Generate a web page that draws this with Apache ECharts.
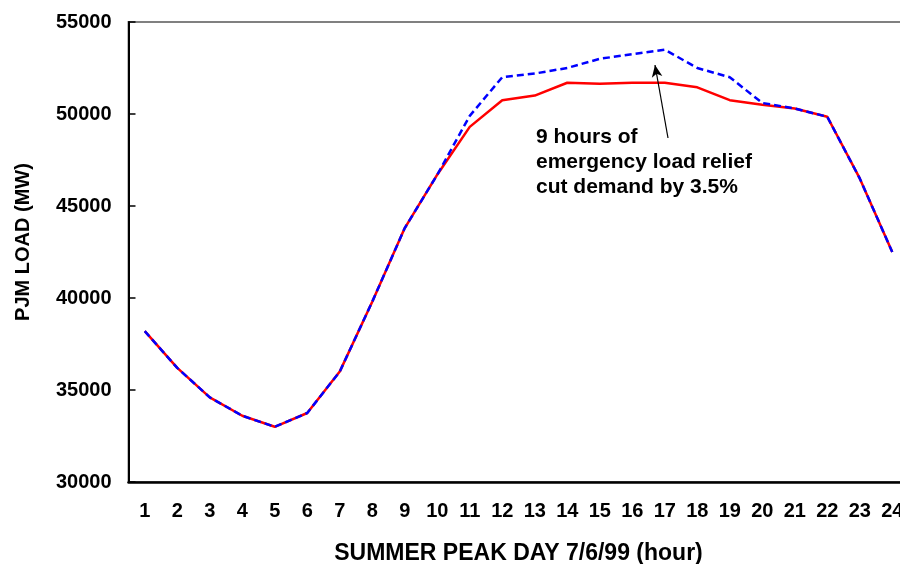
<!DOCTYPE html>
<html>
<head>
<meta charset="utf-8">
<script src="https://cdn.jsdelivr.net/npm/echarts@6/dist/echarts.min.js"></script>
<style>
  html, body { margin: 0; padding: 0; background: #fff; }
  #chart { width: 900px; height: 564px; }
</style>
</head>
<body>
<div id="chart"></div>
<script>
const hours = ["1","2","3","4","5","6","7","8","9","10","11","12","13","14","15","16","17","18","19","20","21","22","23","24"];
// load with emergency relief (red, solid)
const actualLoad = [38200, 36200, 34600, 33600, 33000, 33750, 36000, 39800, 43800, 46700, 49300, 50750,
                    51000, 51700, 51650, 51700, 51700, 51450, 50750, 50500, 50300, 49850, 46500, 42500];
// load without relief (blue, dashed)
const noReliefLoad = [38200, 36200, 34600, 33600, 33000, 33750, 36000, 39800, 43800, 46700, 49900, 52000,
                      52200, 52500, 53000, 53250, 53500, 52500, 52000, 50600, 50300, 49850, 46500, 42500];
const noteLines = ["9 hours of", "emergency load relief", "cut demand by 3.5%"];

const font = "'Liberation Sans', Arial, sans-serif";
const chart = echarts.init(document.getElementById("chart"), null, { renderer: "canvas" });

chart.setOption({
  animation: false,
  backgroundColor: "#fff",
  grid: {
    left: 128.5, top: 22, width: 780, height: 460,
    outerBoundsMode: "none",
    containLabel: false,
    show: true, borderColor: "#808080", borderWidth: 2
  },
  xAxis: {
    type: "category",
    data: hours,
    boundaryGap: true,
    name: "SUMMER PEAK DAY 7/6/99 (hour)",
    nameLocation: "middle",
    nameGap: 60,
    nameTextStyle: { fontFamily: font, fontWeight: "bold", fontSize: 23, color: "#000" },
    axisLine: { lineStyle: { color: "#000", width: 2.5 } },
    axisTick: { inside: true, length: 6, lineStyle: { color: "#000", width: 1.5 } },
    axisLabel: { fontFamily: font, fontWeight: "bold", fontSize: 20, color: "#000", margin: 19 },
    splitLine: { show: false }
  },
  yAxis: {
    type: "value",
    min: 30000, max: 55000, interval: 5000,
    name: "PJM LOAD (MW)",
    nameLocation: "middle",
    nameGap: 95,
    nameTextStyle: { fontFamily: font, fontWeight: "bold", fontSize: 20, color: "#000", padding: [0, 0, 0, 20] },
    axisLine: { show: true, lineStyle: { color: "#000", width: 2 } },
    axisTick: { show: true, inside: true, length: 7, lineStyle: { color: "#000", width: 1.5 } },
    axisLabel: {
      fontFamily: font, fontWeight: "bold", fontSize: 20, color: "#000", margin: 17,
      formatter: (v) => String(v)
    },
    splitLine: { show: false }
  },
  series: [
    {
      name: "With load relief",
      type: "line",
      data: actualLoad,
      symbol: "none",
      lineStyle: { color: "#ff0000", width: 2.5 }
    },
    {
      name: "Without load relief",
      type: "line",
      data: noReliefLoad,
      symbol: "none",
      lineStyle: { color: "#0000ff", width: 2.5, type: [7, 4] },
      markLine: {
        silent: true,
        symbol: ["none", "arrow"],
        symbolSize: [8, 12],
        label: { show: false },
        lineStyle: { color: "#000", width: 1.2, type: "solid" },
        data: [[{ x: 668, y: 138 }, { x: 655, y: 65 }]]
      }
    }
  ],
  graphic: [{
    type: "text",
    left: 536,
    top: 125,
    style: {
      text: noteLines.join("\n"),
      fontFamily: font,
      fontWeight: "bold",
      fontSize: 21,
      lineHeight: 25,
      fill: "#000"
    }
  }]
});
</script>
</body>
</html>
